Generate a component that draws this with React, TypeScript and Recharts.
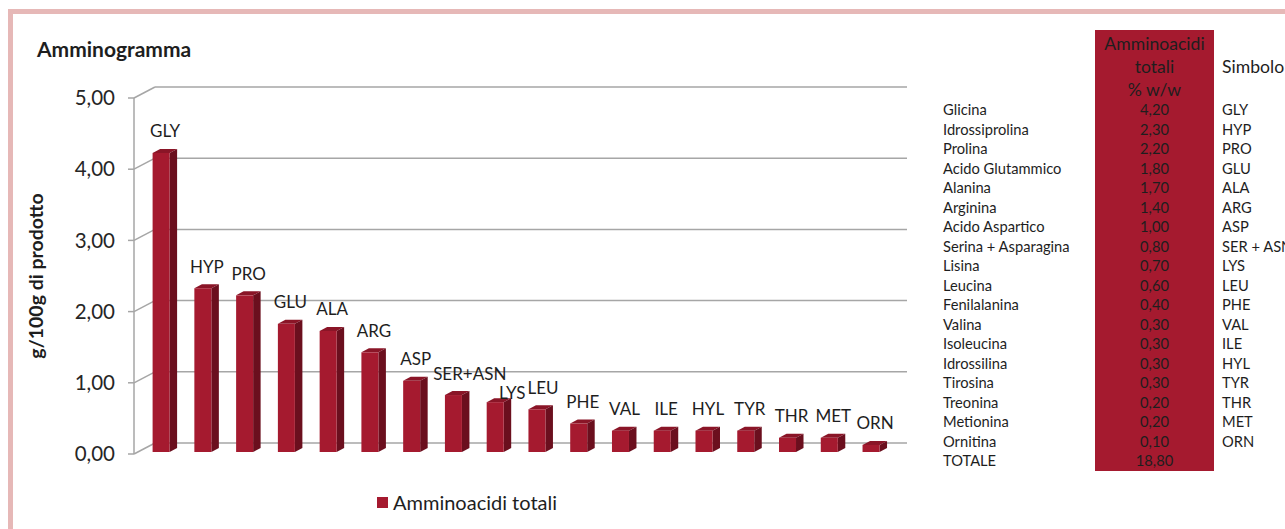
import React from 'react';
import { BarChart, Bar, XAxis, YAxis, CartesianGrid, LabelList, Legend } from 'recharts';

const categories = ['GLY', 'HYP', 'PRO', 'GLU', 'ALA', 'ARG', 'ASP', 'SER+ASN', 'LYS', 'LEU', 'PHE', 'VAL', 'ILE', 'HYL', 'TYR', 'THR', 'MET', 'ORN'];
const values = [4.2, 2.3, 2.2, 1.8, 1.7, 1.4, 1.0, 0.8, 0.7, 0.6, 0.4, 0.3, 0.3, 0.3, 0.3, 0.2, 0.2, 0.1];
const tableNames = ['Glicina', 'Idrossiprolina', 'Prolina', 'Acido Glutammico', 'Alanina', 'Arginina', 'Acido Aspartico', 'Serina + Asparagina', 'Lisina', 'Leucina', 'Fenilalanina', 'Valina', 'Isoleucina', 'Idrossilina', 'Tirosina', 'Treonina', 'Metionina', 'Ornitina'];
const tableSymbols = ['GLY', 'HYP', 'PRO', 'GLU', 'ALA', 'ARG', 'ASP', 'SER + ASN', 'LYS', 'LEU', 'PHE', 'VAL', 'ILE', 'HYL', 'TYR', 'THR', 'MET', 'ORN'];
const totalLabel = 'TOTALE';
const totalValue = 18.8;
const yTicks = [0, 1, 2, 3, 4, 5];
const seriesName = 'Amminoacidi totali';
const tableHeader = ['Amminoacidi', 'totali', '% w/w'];

const data = categories.map((c, i) => ({ sym: c, value: values[i] }));

const FONT = 'Lato, "Open Sans", sans-serif';
const RED = '#A51A2F';
const RED_SIDE = '#6B0F1E';
const RED_TOP = '#8A1527';
const GRID = '#A6A6A6';
const TEXT = '#1E1E1E';

const fmt = (v: number) => v.toFixed(2).replace('.', ',');

const CHART_W = 940;
const CHART_H = 529;
const MARGIN = { top: 98, right: 33, bottom: 75, left: 0 };
const Y_AXIS_W = 134;
const PAD = { left: 6.6, right: 14.7 };
const BAND = (CHART_W - MARGIN.right - MARGIN.left - Y_AXIS_W - PAD.left - PAD.right) / categories.length;

const DEPTH_X = 7.5;
const DEPTH_Y = 4;
const BAR_SHIFT = -2;

const Bar3D = (props: any) => {
  const { x, y, width, height } = props;
  if (height == null || width == null) return null;
  const yy = y + BAR_SHIFT;
  const x2 = x + width;
  const yb = yy + height;
  return (
    <g>
      <polygon
        points={`${x},${yy} ${x + DEPTH_X},${yy - DEPTH_Y} ${x2 + DEPTH_X},${yy - DEPTH_Y} ${x2},${yy}`}
        fill={RED_TOP}
      />
      <polygon
        points={`${x2},${yy} ${x2 + DEPTH_X},${yy - DEPTH_Y} ${x2 + DEPTH_X},${yb - DEPTH_Y} ${x2},${yb}`}
        fill={RED_SIDE}
      />
      <rect x={x} y={yy} width={width} height={height} fill={RED} />
    </g>
  );
};

const WALL_DX = 21;
const WALL_DY = -11;

const GridLine = (props: any) => {
  const { x1, y1, x2 } = props;
  return (
    <g key={props.key}>
      <line x1={x1} y1={y1} x2={x1 + WALL_DX} y2={y1 + WALL_DY} stroke={GRID} strokeWidth={1.5} />
      <line x1={x1 + WALL_DX} y1={y1 + WALL_DY} x2={x2} y2={y1 + WALL_DY} stroke={GRID} strokeWidth={1.5} />
    </g>
  );
};

const LABEL_SIZE = 17;
const LABEL_DX = 4;
const LABEL_GAP = 22;
const LABEL_H = 19;
const MAX_SHIFT_X = 13;

let measureCtx: CanvasRenderingContext2D | null = null;
const measure = (t: string) => {
  try {
    if (!measureCtx) measureCtx = document.createElement('canvas').getContext('2d');
    if (measureCtx) {
      measureCtx.font = `${LABEL_SIZE}px Lato`;
      return measureCtx.measureText(t).width;
    }
  } catch (e) {
    /* ignore */
  }
  return t.length * LABEL_SIZE * 0.58;
};

// simple collision avoidance between neighbouring labels
const layoutLabel = (index: number, x: number, width: number, yBase: number, k: number) => {
  const out: { cx: number; cy: number; w: number }[] = [];
  for (let j = 0; j <= index; j++) {
    let cx = x + width / 2 + LABEL_DX - (index - j) * BAND;
    const top = yBase - values[j] * k + BAR_SHIFT;
    let cy = top - LABEL_GAP;
    const w = measure(categories[j]);
    if (j > 0) {
      const p = out[j - 1];
      const overlapX = p.cx + p.w / 2 - (cx - w / 2);
      if (overlapX > -1 && Math.abs(cy - p.cy) < LABEL_H) {
        const need = overlapX + 2;
        cx += Math.min(need, MAX_SHIFT_X);
        if (need > MAX_SHIFT_X) cy = Math.min(p.cy + LABEL_H, top - 9);
      }
    }
    out.push({ cx, cy, w });
  }
  return out[index];
};

const BarLabel = (props: any) => {
  const { x, y, width, height, value, index } = props;
  const v = values[index];
  const k = v ? height / v : 0;
  const pos = layoutLabel(index, x, width, y + height, k);
  return (
    <text
      x={pos.cx}
      y={pos.cy}
      textAnchor="middle"
      dominantBaseline="central"
      fontFamily={FONT}
      fontSize={LABEL_SIZE}
      fill={TEXT}
    >
      {value}
    </text>
  );
};

const YLabel = (props: any) => {
  const { viewBox } = props;
  const cy = viewBox.y + viewBox.height / 2;
  return (
    <text
      x={35}
      y={cy}
      transform={`rotate(-90, 35, ${cy})`}
      textAnchor="middle"
      dominantBaseline="central"
      fontFamily={FONT}
      fontWeight={700}
      fontSize={19.5}
      fill={TEXT}
    >
      g/100g di prodotto
    </text>
  );
};

const LegendContent = () => (
  <div style={{ display: 'flex', alignItems: 'center', fontFamily: FONT, fontSize: 20, color: TEXT, whiteSpace: 'nowrap', height: 26 }}>
    <span style={{ display: 'inline-block', width: 11, height: 11, background: RED, marginRight: 5 }} />
    <span>{seriesName}</span>
  </div>
);

const ROW_Y0 = 110;
const ROW_H = 19.5;
const ROW_FONT = 14.7;
const HEAD_FONT = 17.6;

export default function App() {
  const rowStyle = (i: number): React.CSSProperties => ({
    position: 'absolute',
    top: ROW_Y0 + i * ROW_H - ROW_H / 2,
    height: ROW_H,
    lineHeight: `${ROW_H}px`,
    fontFamily: FONT,
    fontSize: ROW_FONT,
    color: TEXT,
    whiteSpace: 'nowrap',
  });
  return (
    <div style={{ position: 'fixed', left: 0, top: 0, width: 1285, height: 529, overflow: 'hidden', background: '#fff' }}>
      <div
        style={{
          position: 'absolute',
          left: 8,
          top: 9,
          width: 1400,
          height: 700,
          border: '5px solid #E6B8B7',
          boxSizing: 'border-box',
        }}
      />
      <div
        style={{
          position: 'absolute',
          left: 37,
          top: 36,
          height: 26,
          lineHeight: '26px',
          fontFamily: FONT,
          fontWeight: 700,
          fontSize: 21,
          color: TEXT,
        }}
      >
        Amminogramma
      </div>
      <div style={{ position: 'absolute', left: 0, top: 0 }}>
        <BarChart width={CHART_W} height={CHART_H} data={data} margin={MARGIN}>
          <CartesianGrid horizontal={GridLine} vertical={false} />
          <XAxis dataKey="sym" hide padding={PAD} />
          <YAxis
            width={Y_AXIS_W}
            domain={[0, 5]}
            ticks={yTicks}
            tickFormatter={fmt}
            axisLine={{ stroke: GRID, strokeWidth: 1.5 }}
            tickLine={{ stroke: GRID, strokeWidth: 1.5 }}
            tickSize={6}
            tickMargin={13}
            tick={{ fontFamily: FONT, fontSize: 20.5, fill: '#262626' }}
            label={<YLabel />}
          />
          <Legend
            verticalAlign="middle"
            align="center"
            layout="horizontal"
            content={<LegendContent />}
            wrapperStyle={{ left: 377, top: 489, width: 240, height: 26 }}
          />
          <Bar dataKey="value" name={seriesName} barSize={17} fill={RED} shape={<Bar3D />} isAnimationActive={false}>
            <LabelList dataKey="sym" content={<BarLabel />} />
          </Bar>
        </BarChart>
      </div>
      <div style={{ position: 'absolute', left: 1095, top: 30, width: 119, height: 441, background: RED }} />
      {tableHeader.map((h, i) => (
        <div
          key={h}
          style={{
            position: 'absolute',
            left: 1095,
            width: 119,
            textAlign: 'center',
            top: 43 + i * 23 - 11.5,
            height: 23,
            lineHeight: '23px',
            fontFamily: FONT,
            fontSize: HEAD_FONT,
            color: TEXT,
            whiteSpace: 'nowrap',
          }}
        >
          {h}
        </div>
      ))}
      <div
        style={{
          position: 'absolute',
          left: 1222,
          top: 66 - 11.5,
          height: 23,
          lineHeight: '23px',
          fontFamily: FONT,
          fontSize: HEAD_FONT,
          color: TEXT,
          whiteSpace: 'nowrap',
        }}
      >
        Simbolo
      </div>
      {tableNames.map((n, i) => (
        <React.Fragment key={n}>
          <div style={{ ...rowStyle(i), left: 943 }}>{n}</div>
          <div style={{ ...rowStyle(i), left: 1095, width: 119, textAlign: 'center' }}>{fmt(values[i])}</div>
          <div style={{ ...rowStyle(i), left: 1222 }}>{tableSymbols[i]}</div>
        </React.Fragment>
      ))}
      <div style={{ ...rowStyle(tableNames.length), left: 943 }}>{totalLabel}</div>
      <div style={{ ...rowStyle(tableNames.length), left: 1095, width: 119, textAlign: 'center' }}>{fmt(totalValue)}</div>
    </div>
  );
}
